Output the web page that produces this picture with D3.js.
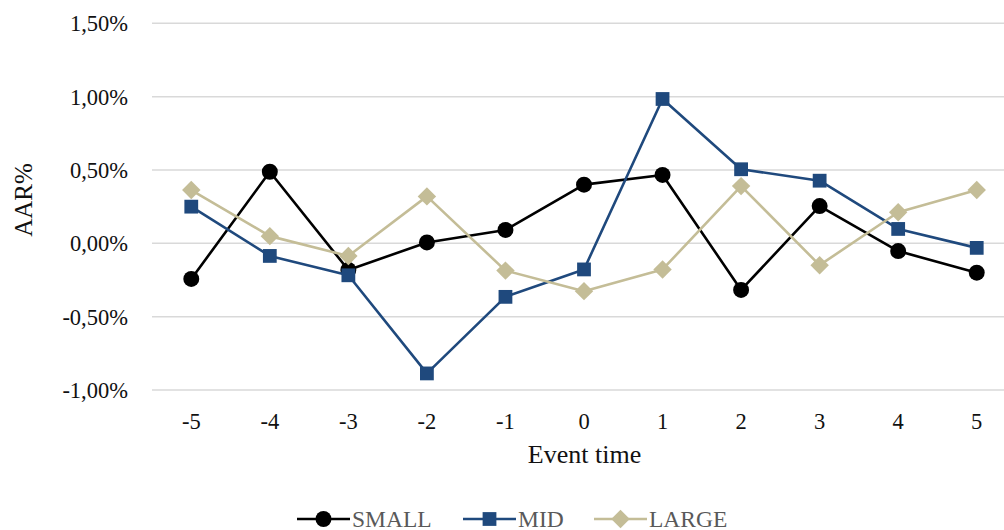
<!DOCTYPE html>
<html><head><meta charset="utf-8">
<script src="https://cdn.jsdelivr.net/npm/d3@7"></script>
<style>body{margin:0;background:#fff}svg{display:block}svg text{font-family:"Liberation Serif","Times New Roman",Times,serif !important}</style>
</head><body><svg id="c" width="1004" height="530"></svg>
<script>
const categories = ["-5","-4","-3","-2","-1","0","1","2","3","4","5"];
const small = [-0.243,0.488,-0.182,0.006,0.091,0.400,0.466,-0.318,0.254,-0.053,-0.200];
const mid   = [0.250,-0.086,-0.218,-0.887,-0.365,-0.178,0.984,0.505,0.427,0.098,-0.031];
const large = [0.363,0.049,-0.086,0.320,-0.186,-0.326,-0.178,0.390,-0.149,0.212,0.363];
const yTicks = [-1.0,-0.5,0,0.5,1.0,1.5];
const seriesNames = ["SMALL","MID","LARGE"];

const svg = d3.select("#c");
const x = d3.scaleBand().domain(categories).range([152,1016]);
const y = d3.scaleLinear().domain([-1,1.5]).range([390,23.3]);
const fmt = v => d3.format(".2f")(v).replace(".",",").replace("\u2212","-") + "%";

// gridlines
svg.append("g").selectAll("line").data(yTicks).join("line")
  .attr("x1",152).attr("x2",1004).attr("y1",d=>y(d)).attr("y2",d=>y(d))
  .attr("stroke","#d9d9d9").attr("stroke-width",1.5);

// y axis
const ya = svg.append("g").attr("transform","translate(152,0)")
  .call(d3.axisLeft(y).tickValues(yTicks).tickFormat(fmt).tickSize(0).tickPadding(24));
ya.select(".domain").remove();
ya.selectAll("text").attr("font-size",22.5).attr("fill","#111").attr("dy","0.33em");

// x axis
const xa = svg.append("g").attr("transform","translate(0,390)")
  .call(d3.axisBottom(x).tickSize(0).tickPadding(23));
xa.select(".domain").remove();
xa.selectAll("text").attr("font-size",22.5).attr("fill","#111");

// titles
svg.append("text").attr("x",584.5).attr("y",463).attr("text-anchor","middle")
  .attr("font-size",26).attr("fill","#111").text("Event time");
svg.append("text").attr("transform","translate(32,200) rotate(-90)").attr("text-anchor","middle")
  .attr("font-size",25).attr("fill","#111").text("AAR%");

const diamond = {draw(ctx,size){const r=Math.sqrt(size/2);ctx.moveTo(0,-r);ctx.lineTo(r,0);ctx.lineTo(0,r);ctx.lineTo(-r,0);ctx.closePath();}};
const series = [
  {name:"SMALL", vals:small, color:"#000000", sym:d3.symbolCircle, size:200},
  {name:"MID", vals:mid, color:"#1f497d", sym:d3.symbolSquare, size:190},
  {name:"LARGE", vals:large, color:"#c4bd97", sym:diamond, size:170}
];
const line = d3.line().x((d,i)=>x(categories[i])+x.bandwidth()/2).y(d=>y(d));
series.forEach(s=>{
  const g = svg.append("g");
  g.append("path").datum(s.vals).attr("d",line).attr("fill","none")
    .attr("stroke",s.color).attr("stroke-width",2.6).attr("stroke-linejoin","round");
  g.selectAll("path.m").data(s.vals).join("path").attr("class","m")
    .attr("transform",(d,i)=>`translate(${x(categories[i])+x.bandwidth()/2},${y(d)})`)
    .attr("d",d3.symbol().type(s.sym).size(s.size)).attr("fill",s.color);
});

// legend
const legX = [297,463,594];
series.forEach((s,i)=>{
  const g = svg.append("g").attr("transform",`translate(${legX[i]},519)`);
  g.append("line").attr("x1",0).attr("x2",53).attr("stroke",s.color).attr("stroke-width",2.6);
  g.append("path").attr("transform","translate(26.5,0)")
    .attr("d",d3.symbol().type(s.sym).size(s.size)).attr("fill",s.color);
  g.append("text").attr("x",55).attr("dy","0.35em").attr("font-size",23.5)
    .attr("fill","#595959").text(s.name);
});
</script></body></html>
